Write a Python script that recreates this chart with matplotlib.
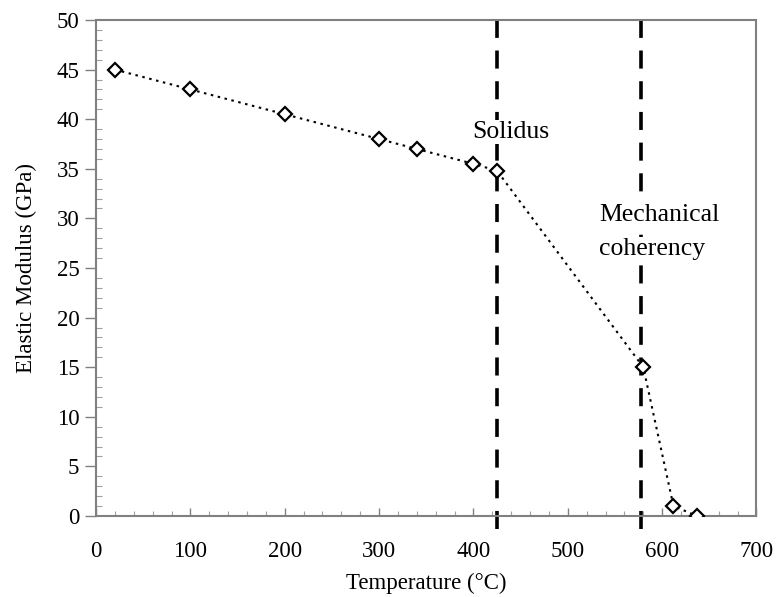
import matplotlib
matplotlib.use("Agg")
import matplotlib.pyplot as plt
from matplotlib.ticker import MultipleLocator

plt.rcParams['font.family'] = ['Liberation Serif', 'DejaVu Serif']

# measured modulus vs temperature
temp = [20, 100, 200, 300, 340, 400, 425, 580, 612, 637]
modulus = [45, 43, 40.5, 38, 37, 35.5, 34.8, 15, 1, 0]

solidus_t = 425
coherency_t = 578

fig = plt.figure(figsize=(7.77, 5.97), dpi=100)
ax = fig.add_axes([0.1236, 0.1357, 0.850, 0.8308])

ax.plot(temp, modulus, linestyle=(0, (1.2, 2.2)), color='black', lw=1.5,
        marker='D', markersize=7, markerfacecolor='white',
        markeredgecolor='black', markeredgewidth=1.6, zorder=3)

for t in (solidus_t, coherency_t):
    ax.plot([t, t], [-1.3, 50], color='black', lw=2.6, linestyle=(0, (5, 3.5)),
            clip_on=False, zorder=2)

box = dict(facecolor='white', edgecolor='none', pad=1)
ax.text(440, 38.7, 'Solidus', fontsize=18.5, ha='center', va='center',
        bbox=box, zorder=4)
ax.text(533, 30.3, 'Mechanical', fontsize=18.5, ha='left', va='center',
        bbox=box, zorder=4)
ax.text(533, 26.9, 'coherency', fontsize=18.5, ha='left', va='center',
        bbox=box, zorder=4)

ax.set_xlim(0, 700)
ax.set_ylim(0, 50)
ax.xaxis.set_major_locator(MultipleLocator(100))
ax.xaxis.set_minor_locator(MultipleLocator(20))
ax.yaxis.set_major_locator(MultipleLocator(5))
ax.yaxis.set_minor_locator(MultipleLocator(1))

for s in ax.spines.values():
    s.set_color('#808080')
    s.set_linewidth(1.5)

ax.tick_params(axis='y', which='major', direction='out', length=8, width=1,
               color='#808080', labelsize=16.5, pad=4)
ax.tick_params(axis='y', which='minor', direction='in', length=4, width=0.8,
               color='#a0a0a0')
ax.tick_params(axis='x', which='major', direction='in', length=6, width=1,
               color='#808080', labelsize=16.5, pad=18)
ax.tick_params(axis='x', which='minor', direction='in', length=3.5, width=0.8,
               color='#a0a0a0')

ax.set_xlabel('Temperature (°C)', fontsize=16.5, labelpad=8)
ax.set_ylabel('Elastic Modulus (GPa)', fontsize=16.5, labelpad=14)

fig.savefig('out.png', dpi=100)
